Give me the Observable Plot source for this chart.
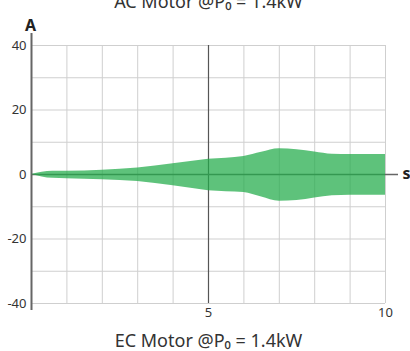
<!DOCTYPE html>
<html>
<head>
<meta charset="utf-8">
<script src="https://cdn.jsdelivr.net/npm/d3@7"></script>
<script src="https://cdn.jsdelivr.net/npm/@observablehq/plot@0.6"></script>
<style>
  html, body { margin: 0; padding: 0; background: #fff; overflow: hidden; }
  #chart svg { display: block; font-family: "Noto Sans", sans-serif; }
</style>
</head>
<body>
<div id="chart"></div>
<script>
const times = [0, 0.6, 1, 2, 3, 4, 5, 6, 6.5, 7, 7.5, 8, 8.5, 9, 10];
const upper = [0, 1.0, 1.0, 1.3, 2.0, 3.3, 4.7, 5.6, 6.9, 8.0, 7.7, 7.0, 6.3, 6.2, 6.2];
const lower = [0, -1.2, -1.3, -1.6, -2.2, -3.5, -5.0, -5.6, -7.0, -8.3, -8.1, -7.3, -6.6, -6.4, -6.4];
const xGrid = [1, 2, 3, 4, 5, 6, 7, 8, 9, 10];
const yGrid = [-40, -30, -20, -10, 0, 10, 20, 30, 40];
const yTicks = [-40, -20, 0, 20, 40];
const xTicks = [5, 10];
const title = "AC Motor @P\u2080 = 1.4kW";
const caption = "EC Motor @P\u2080 = 1.4kW";

const data = times.map((t, i) => ({t, hi: upper[i], lo: lower[i]}));

const chart = Plot.plot({
  width: 410,
  height: 351,
  marginLeft: 31,
  marginRight: 25,
  marginTop: 45,
  marginBottom: 48,
  style: {fontFamily: "Noto Sans, sans-serif", fontSize: "13px", color: "#333", overflow: "visible"},
  x: {domain: [0, 10], label: null},
  y: {domain: [-40, 40], label: null},
  marks: [
    Plot.ruleX(xGrid, {stroke: "#cfcfcf", strokeWidth: 1}),
    Plot.ruleY(yGrid, {stroke: "#cfcfcf", strokeWidth: 1}),
    Plot.ruleX([5], {stroke: "#555", strokeWidth: 1.2}),
    Plot.ruleX([0], {stroke: "#666", strokeWidth: 2, insetTop: -12, insetBottom: -7}),
    Plot.ruleY([0], {stroke: "#666", strokeWidth: 1.5, insetRight: -13}),
    Plot.areaY(data, {x: "t", y1: "lo", y2: "hi", fill: "#22ab4a", fillOpacity: 0.73, curve: "monotone-x"}),
    Plot.axisY(yTicks, {tickSize: 0, tickPadding: 5, fontSize: 13, fill: "#333", label: null, tickFormat: d => String(d)}),
    Plot.axisX(xTicks, {tickSize: 0, tickPadding: 4, fontSize: 13, fill: "#333", label: null, tickFormat: d => String(d)}),
    Plot.text(["A"], {frameAnchor: "top-left", dx: -1, dy: -26, fontSize: 16, fontWeight: "bold", fill: "#222", textAnchor: "middle"}),
    Plot.text(["s"], {x: 10, y: 0, dx: 21, dy: -1, fontSize: 16, fontWeight: "bold", fill: "#222", textAnchor: "middle"}),
    Plot.text([title], {frameAnchor: "top", dy: -50, fontSize: 18, fill: "#333"}),
    Plot.text([caption], {frameAnchor: "bottom", dy: 43, fontSize: 18, fill: "#333"})
  ]
});
document.getElementById("chart").appendChild(chart);
</script>
</body>
</html>
